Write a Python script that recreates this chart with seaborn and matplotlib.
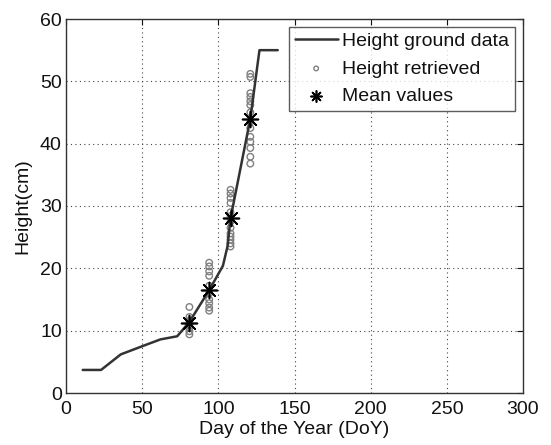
import matplotlib

matplotlib.use("Agg")
import matplotlib.pyplot as plt
import pandas as pd
import seaborn as sns

# ground data line
ground_day = [11, 23, 36, 50, 62, 73, 81, 94, 103, 106, 108, 121, 127, 139]
ground_height = [3.7, 3.7, 6.2, 7.5, 8.6, 9.1, 11.4, 16.5, 20.4, 23.5, 28.0, 44.0, 55.0, 55.0]

# retrieved heights per acquisition day
h81 = [13.8, 12.2, 11.6, 11.0, 10.4, 9.9, 9.4]
h94 = [20.9, 20.3, 19.5, 18.8, 17.2, 16.0, 15.0, 14.4, 13.7, 13.2]
h108 = [32.6, 32.0, 31.3, 30.5, 29.0, 28.4, 27.5, 26.5, 25.6, 25.1, 24.6, 24.0, 23.5]
h121 = [51.2, 50.7, 48.1, 47.5, 46.8, 46.2, 45.0, 43.5, 42.5, 41.1, 40.3, 39.3, 37.9, 36.8]
acq_days = [81, 94, 108, 121]

# mean values
mean_day = [81, 94, 108, 121]
mean_height = [11.3, 16.5, 28.0, 44.0]

retrieved = pd.DataFrame({
    "day": [d for d, hs in zip(acq_days, [h81, h94, h108, h121]) for _ in hs],
    "height": h81 + h94 + h108 + h121,
})
ground = pd.DataFrame({"day": ground_day, "height": ground_height})
means = pd.DataFrame({"day": mean_day, "height": mean_height})

sns.set_style("white")
plt.rcParams["font.family"] = ["Liberation Sans", "DejaVu Sans"]

fig = plt.figure(figsize=(5.51, 4.45), dpi=100)
ax = fig.add_axes([66 / 551, 52 / 445, 457 / 551, 374 / 445])

sns.lineplot(data=ground, x="day", y="height", ax=ax, color="#333333", linewidth=1.8,
             label="Height ground data", estimator=None, sort=False)
sns.scatterplot(data=retrieved, x="day", y="height", ax=ax, marker="o", s=22,
                facecolor="none", edgecolor="#808080", linewidth=1, label="Height retrieved")
sns.scatterplot(data=means, x="day", y="height", ax=ax, marker=(8, 2, 0), s=130,
                color="black", linewidth=1.2, label="Mean values", zorder=5)

ax.set_xlim(0, 300)
ax.set_ylim(0, 60)
ax.set_xticks(range(0, 301, 50))
ax.set_yticks(range(0, 61, 10))
ax.grid(True, linestyle=(0, (1, 3)), color="#444444", linewidth=0.8)
ax.tick_params(direction="in", top=True, right=True, labelsize=14, length=4, width=0.8,
               colors="#111111")
ax.tick_params(axis="x", pad=6)
ax.tick_params(axis="y", pad=3)
for sp in ax.spines.values():
    sp.set_color("#333333")
    sp.set_linewidth(1)
ax.set_xlabel("Day of the Year (DoY)", fontsize=14, labelpad=2, color="#111111")
ax.set_ylabel("Height(cm)", fontsize=14, labelpad=6, color="#111111")

leg = ax.legend(loc="upper right", fontsize=14, frameon=True, fancybox=False,
                edgecolor="#333333", borderpad=0.3, labelspacing=0.5, handlelength=2.2,
                handletextpad=0.25, borderaxespad=0.4, markerscale=0.7)
leg.get_frame().set_linewidth(1)
for t in leg.get_texts():
    t.set_color("#111111")

fig.savefig("out.png", dpi=100)
